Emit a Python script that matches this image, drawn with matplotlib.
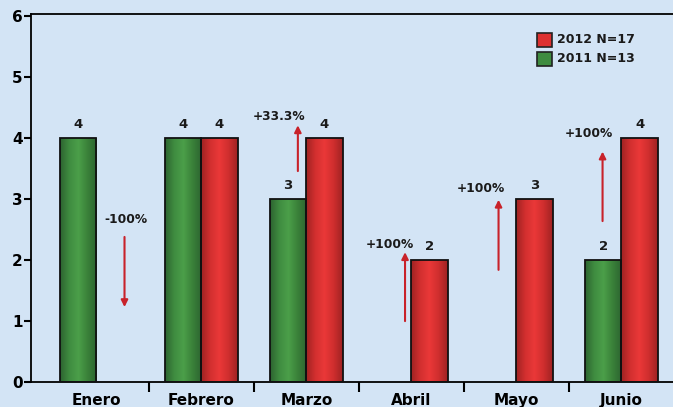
import numpy as np
import matplotlib.pyplot as plt
from matplotlib.colors import LinearSegmentedColormap
from matplotlib.patches import Rectangle

# ---- data ----
months = ['Enero', 'Febrero', 'Marzo', 'Abril', 'Mayo', 'Junio']
casos_2011 = [4, 4, 3, 0, 0, 2]
casos_2012 = [0, 4, 4, 2, 3, 4]
cambios = ['-100%', '', '+33.3%', '+100%', '+100%', '+100%']
label_2011 = '2011 N=13'
label_2012 = '2012 N=17'

# arrow layout: (x of arrow, y start, y end, x text, y text) per month with a change
arrow_pos = {
    0: (0.27, 2.37, 1.22, 0.28, 2.66),
    2: (1.92, 3.45, 4.20, 1.74, 4.35),
    3: (2.94, 0.99, 2.12, 2.80, 2.24),
    4: (3.83, 1.83, 2.98, 3.66, 3.16),
    5: (4.82, 2.63, 3.77, 4.69, 4.06),
}

BG = '#d3e4f5'
green_cmap = LinearSegmentedColormap.from_list('g', ['#2c6330', '#3f8c40', '#4b9f49', '#3a8139', '#2c6330'])
red_cmap = LinearSegmentedColormap.from_list('r', ['#9e2222', '#d22f2f', '#ea3838', '#cf2e2e', '#9e2222'])

fig = plt.figure(figsize=(6.73, 4.07), dpi=100)
fig.patch.set_facecolor(BG)
ax = fig.add_axes([31 / 673, 25.5 / 407, 643 / 673, 367.5 / 407])
ax.set_facecolor(BG)
ax.set_xlim(-0.62, 5.5)
ax.set_ylim(0, 6.025)

bw = 0.346
grad = np.linspace(0, 1, 256).reshape(1, -1)


def gradient_bar(x0, h, cmap):
    if h <= 0:
        return
    im = ax.imshow(grad, cmap=cmap, aspect='auto', extent=(x0, x0 + bw, 0, h),
                   zorder=2, interpolation='bilinear')
    r = Rectangle((x0, 0), bw, h, facecolor='none', edgecolor='#111111', lw=1.3, zorder=3)
    ax.add_patch(r)
    im.set_clip_path(r)


x = np.arange(len(months))
for i in x:
    gradient_bar(i - bw, casos_2011[i], green_cmap)
    gradient_bar(i, casos_2012[i], red_cmap)
    if casos_2011[i] > 0:
        ax.text(i - bw / 2, casos_2011[i] + 0.11, str(casos_2011[i]), ha='center', va='bottom',
                fontsize=9.5, fontweight='bold', color='#1a1a1a')
    if casos_2012[i] > 0:
        ax.text(i + bw / 2, casos_2012[i] + 0.11, str(casos_2012[i]), ha='center', va='bottom',
                fontsize=9.5, fontweight='bold', color='#1a1a1a')

# change arrows
for i, (ax_x, y0, y1, tx, ty) in arrow_pos.items():
    ax.annotate('', xy=(ax_x, y1), xytext=(ax_x, y0),
                arrowprops=dict(arrowstyle='-|>', color='#c8222a', lw=1.5,
                                mutation_scale=10, shrinkA=0, shrinkB=0), zorder=4)
    ax.text(tx, ty, cambios[i], ha='center', va='center', fontsize=8.8,
            fontweight='bold', color='#1a1a1a')

ax.set_xticks(x)
ax.set_xticklabels(months, fontsize=11, fontweight='bold')
ax.set_xticks(x[:-1] + 0.5, minor=True)
ax.tick_params(axis='x', which='major', length=0, pad=8)
ax.tick_params(axis='x', which='minor', length=7, width=1.5, direction='out', color='black')
ax.set_yticks(range(0, 7))
ax.set_yticklabels([str(v) for v in range(0, 7)], fontsize=11, fontweight='bold')
ax.tick_params(axis='y', length=5, width=1.5, direction='out', pad=1)

for s in ['left', 'top', 'bottom']:
    ax.spines[s].set_linewidth(1.3)
ax.spines['right'].set_visible(False)

# legend, drawn by hand in figure pixels
W, H = 673, 407
legend_items = [(label_2012, '#dc3030', 32.5), (label_2011, '#3f8c40', 52)]
for lab, col, top in legend_items:
    fig.patches.append(Rectangle((537 / W, 1 - (top + 14) / H), 15 / W, 14 / H,
                                 transform=fig.transFigure, facecolor=col,
                                 edgecolor='#222222', lw=1.2))
    fig.text(557 / W, 1 - (top + 7) / H, lab, ha='left', va='center',
             fontsize=9, fontweight='bold', color='#1a1a1a')

fig.savefig('out.png', dpi=100, facecolor=BG)
